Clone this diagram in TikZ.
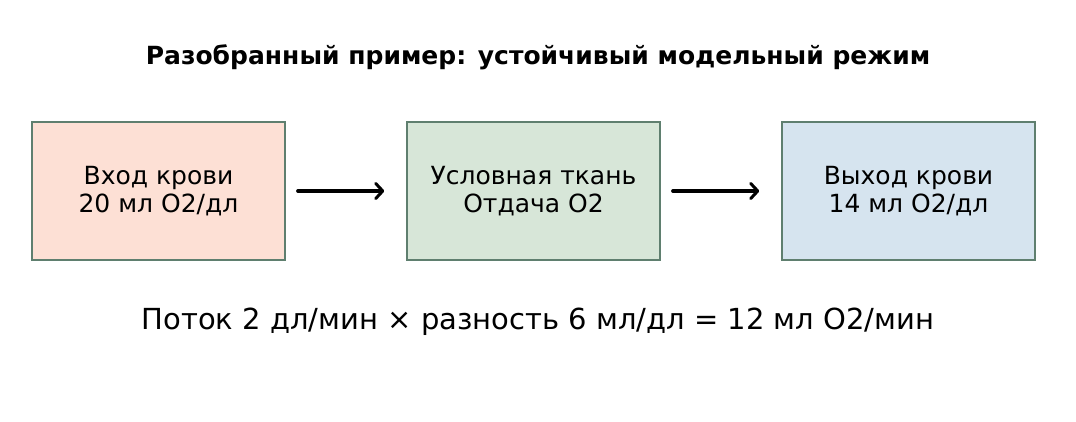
\documentclass[tikz,border=0pt]{standalone}
\usepackage{fontspec}
\setmainfont{DejaVu Sans}
\usetikzlibrary{arrows.meta}

\definecolor{edgegray}{HTML}{5F7F6F}
\definecolor{inpeach}{HTML}{FDE0D5}
\definecolor{midgreen}{HTML}{D7E6D8}
\definecolor{outblue}{HTML}{D6E4EF}

\tikzset{
  stagebox/.style={draw=edgegray, line width=1.5pt, minimum width=253pt, minimum height=138pt,
    inner sep=0pt, align=center, font=\fontsize{25}{27.5}\selectfont},
  flowarrow/.style={line width=3.2pt, line cap=round, -{Straight Barb[length=7pt, width=15pt, line width=3pt, round]},
    shorten <=12pt, shorten >=22pt}
}

\begin{document}
\begin{tikzpicture}[x=1pt, y=-1pt]
\useasboundingbox (0,0) rectangle (1076,422);

\node (title) at (538, 57) {\fontsize{25}{30}\selectfont\bfseries Разобранный пример: устойчивый модельный режим};

\node[stagebox, fill=inpeach] (inflow) at (158.5, 191) {Вход крови\\20 мл O2/дл};
\node[stagebox, fill=midgreen] (tissue) at (533.5, 191) {Условная ткань\\Отдача O2};
\node[stagebox, fill=outblue] (outflow) at (908.5, 191) {Выход крови\\14 мл O2/дл};

\draw[flowarrow] (inflow) -- (tissue);
\draw[flowarrow] (tissue) -- (outflow);

\node (summary) at (538, 322) {\fontsize{29}{34}\selectfont Поток 2 дл/мин × разность 6 мл/дл = 12 мл O2/мин};
\end{tikzpicture}
\end{document}
